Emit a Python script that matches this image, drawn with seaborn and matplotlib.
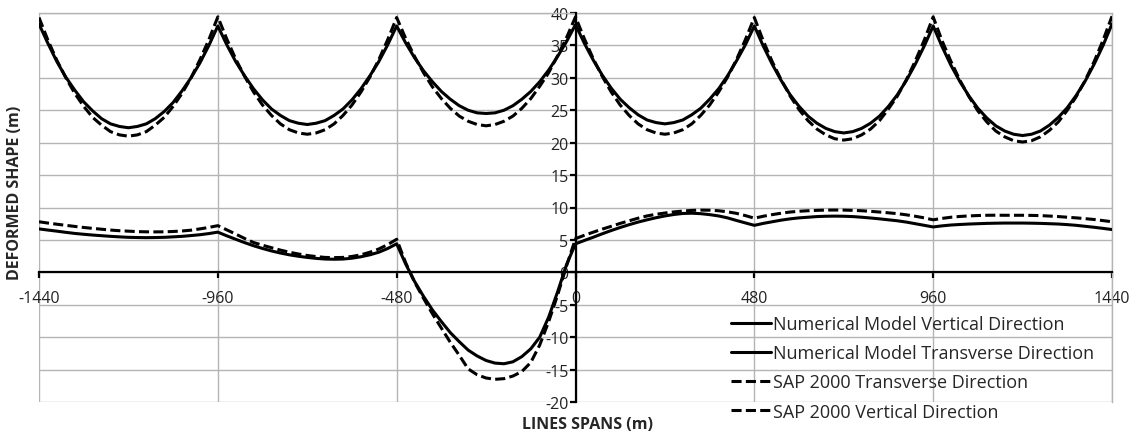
import numpy as np
import pandas as pd
import matplotlib
matplotlib.use("Agg")
import matplotlib.pyplot as plt
from matplotlib.ticker import MultipleLocator
import seaborn as sns

# stations along the line (m), every 24 m
x_m = np.arange(-1440, 1441, 24)

# vertical deformed shape (m), one row per span (towers shared)
num_vertical = [
    38.3, 35.3, 32.5, 30.1, 28.1, 26.3, 24.9, 23.7, 22.9, 22.5, 22.3, 22.5, 22.9, 23.7, 24.8, 26.2, 28.0, 30.0, 32.3, 35.0, 38.0,
    35.1, 32.5, 30.3, 28.3, 26.6, 25.2, 24.2, 23.4, 23.0, 22.8, 23.0, 23.4, 24.2, 25.2, 26.6, 28.3, 30.3, 32.5, 35.1, 38.0,
    35.4, 33.1, 31.1, 29.4, 27.9, 26.7, 25.7, 25.0, 24.6, 24.5, 24.6, 25.0, 25.7, 26.7, 27.9, 29.4, 31.2, 33.3, 35.6, 38.2,
    35.3, 32.7, 30.4, 28.4, 26.7, 25.4, 24.3, 23.5, 23.1, 22.9, 23.1, 23.5, 24.3, 25.3, 26.7, 28.3, 30.3, 32.6, 35.1, 38.0,
    34.9, 32.1, 29.6, 27.4, 25.6, 24.1, 23.0, 22.2, 21.7, 21.5, 21.7, 22.2, 23.0, 24.1, 25.6, 27.4, 29.6, 32.1, 34.9, 38.0,
    34.8, 31.9, 29.4, 27.2, 25.3, 23.8, 22.6, 21.8, 21.3, 21.1, 21.3, 21.8, 22.7, 23.9, 25.4, 27.3, 29.5, 32.1, 35.0, 38.3,
]
sap_vertical = [
    39.3, 35.8, 32.7, 30.0, 27.6, 25.6, 23.9, 22.7, 21.7, 21.2, 21.0, 21.2, 21.7, 22.7, 23.9, 25.6, 27.6, 30.0, 32.8, 35.9, 39.4,
    36.0, 32.9, 30.2, 27.8, 25.8, 24.2, 22.9, 22.0, 21.5, 21.3, 21.5, 22.0, 22.9, 24.2, 25.8, 27.8, 30.1, 32.8, 35.9, 39.3,
    36.1, 33.3, 30.8, 28.6, 26.8, 25.3, 24.1, 23.3, 22.8, 22.6, 22.8, 23.3, 24.1, 25.3, 26.8, 28.7, 30.8, 33.4, 36.2, 39.4,
    36.0, 32.9, 30.2, 27.8, 25.8, 24.2, 22.9, 22.0, 21.5, 21.3, 21.5, 22.0, 22.9, 24.2, 25.8, 27.8, 30.1, 32.8, 35.9, 39.3,
    35.7, 32.5, 29.7, 27.2, 25.1, 23.4, 22.1, 21.2, 20.6, 20.4, 20.6, 21.2, 22.1, 23.4, 25.2, 27.2, 29.7, 32.6, 35.8, 39.4,
    35.7, 32.5, 29.6, 27.1, 24.9, 23.2, 21.8, 20.9, 20.3, 20.1, 20.3, 20.9, 21.9, 23.2, 25.0, 27.1, 29.6, 32.5, 35.8, 39.5,
]

# transverse deformed shape (m)
num_transverse = [
    6.7, 6.52, 6.35, 6.17, 6.0, 5.87, 5.75, 5.65, 5.55, 5.47, 5.4, 5.37, 5.35, 5.37, 5.4, 5.47, 5.55, 5.67, 5.8, 5.98, 6.2,
    5.63, 5.1, 4.58, 4.1, 3.68, 3.3, 2.98, 2.7, 2.48, 2.3, 2.15, 2.05, 2.02, 2.05, 2.18, 2.4, 2.7, 3.1, 3.68, 4.4,
    1.3, -1.4, -3.7, -5.8, -7.6, -9.3, -10.7, -12.0, -12.9, -13.6, -14.0, -14.1, -13.8, -13.0, -11.8, -10.0, -6.9, -3.0, 1.2, 4.4,
    4.92, 5.42, 5.95, 6.45, 6.92, 7.35, 7.75, 8.1, 8.42, 8.7, 8.92, 9.08, 9.12, 9.05, 8.9, 8.7, 8.4, 8.0, 7.62, 7.25,
    7.55, 7.8, 8.05, 8.25, 8.4, 8.5, 8.6, 8.65, 8.67, 8.65, 8.6, 8.5, 8.38, 8.25, 8.1, 7.95, 7.75, 7.5, 7.25, 7.0,
    7.17, 7.3, 7.38, 7.45, 7.5, 7.55, 7.58, 7.6, 7.6, 7.6, 7.58, 7.55, 7.5, 7.45, 7.36, 7.25, 7.1, 6.95, 6.78, 6.6,
]
sap_transverse = [
    7.8, 7.6, 7.42, 7.25, 7.08, 6.92, 6.78, 6.65, 6.52, 6.42, 6.35, 6.28, 6.25, 6.24, 6.25, 6.3, 6.38, 6.5, 6.7, 6.93, 7.2,
    6.55, 5.9, 5.22, 4.6, 4.18, 3.8, 3.43, 3.1, 2.83, 2.6, 2.43, 2.3, 2.27, 2.3, 2.45, 2.7, 3.1, 3.6, 4.28, 5.1,
    1.5, -1.5, -4.0, -6.4, -8.6, -10.8, -12.8, -14.9, -15.8, -16.3, -16.5, -16.4, -16.0, -15.3, -13.9, -11.2, -7.6, -3.5, 1.0, 5.2,
    5.72, 6.2, 6.67, 7.1, 7.55, 7.95, 8.35, 8.7, 8.95, 9.15, 9.32, 9.45, 9.55, 9.6, 9.58, 9.5, 9.33, 9.1, 8.75, 8.35,
    8.65, 8.9, 9.12, 9.3, 9.42, 9.5, 9.56, 9.6, 9.61, 9.6, 9.56, 9.5, 9.41, 9.3, 9.18, 9.05, 8.87, 8.65, 8.4, 8.1,
    8.32, 8.5, 8.62, 8.7, 8.76, 8.8, 8.81, 8.8, 8.8, 8.8, 8.78, 8.75, 8.68, 8.6, 8.5, 8.4, 8.28, 8.15, 7.98, 7.8,
]

series_names = [
    "Numerical Model Vertical Direction",
    "Numerical Model Transverse Direction",
    "SAP 2000 Transverse Direction",
    "SAP 2000 Vertical Direction",
]
series_values = [num_vertical, num_transverse, sap_transverse, sap_vertical]

df = pd.concat(
    [pd.DataFrame({"x": x_m, "y": vals, "serie": name})
     for name, vals in zip(series_names, series_values)],
    ignore_index=True,
)

sns.set_theme(style="white")
plt.rcParams["font.family"] = ["Open Sans", "DejaVu Sans"]
plt.rcParams["axes.unicode_minus"] = False

fig = plt.figure(figsize=(11.39, 4.35), dpi=100)
ax = fig.add_axes([39 / 1139, 1 - 403 / 435, 1073 / 1139, 389 / 435])

dash = (3.3, 1.4)
sns.lineplot(
    data=df, x="x", y="y", hue="serie", style="serie",
    hue_order=series_names, style_order=series_names,
    palette=["black"] * 4,
    dashes={series_names[0]: "", series_names[1]: "",
            series_names[2]: dash, series_names[3]: dash},
    estimator=None, sort=False, linewidth=2.2, ax=ax, zorder=3,
)

ax.set_xlim(-1440, 1440)
ax.set_ylim(-20, 40)
ax.xaxis.set_major_locator(MultipleLocator(480))
ax.xaxis.set_minor_locator(MultipleLocator(96))
ax.yaxis.set_major_locator(MultipleLocator(5))
ax.yaxis.set_minor_locator(MultipleLocator(2.5))

ax.grid(True, which="major", color="#b4b4b4", linewidth=1.0, zorder=0)
ax.set_axisbelow(True)

# axes crossing at zero
ax.spines["left"].set_position(("data", 0))
ax.spines["bottom"].set_position(("data", 0))
for s in ["left", "bottom"]:
    ax.spines[s].set_color("black")
    ax.spines[s].set_linewidth(1.6)
    ax.spines[s].set_zorder(4)
for s in ["top", "right"]:
    ax.spines[s].set_color("#b4b4b4")
    ax.spines[s].set_linewidth(1.0)

ax.tick_params(axis="x", which="major", direction="out", length=4, width=1.6,
               color="black", pad=9, labelsize=11.5, labelcolor="#222222")
ax.tick_params(axis="x", which="minor", direction="out", length=4, width=1.6,
               color="black")
ax.tick_params(axis="y", which="major", direction="out", length=4, width=1.6,
               color="black", pad=1, labelsize=11.5, labelcolor="#222222")
ax.tick_params(axis="y", which="minor", direction="out", length=3, width=1.6,
               color="black")
ax.yaxis.set_tick_params(left=True)
ax.xaxis.set_tick_params(bottom=True)

ax.set_xlabel("LINES SPANS (m)", fontsize=11.5, fontweight="bold")
ax.set_ylabel("DEFORMED SHAPE (m)", fontsize=11.5, fontweight="bold")
ax.xaxis.set_label_coords((587 - 39) / 1073, -(425 - 403) / 389)
ax.yaxis.set_label_coords((15 - 39) / 1073, (403 - 193) / 389)
ax.xaxis.label.set_va("center")
ax.yaxis.label.set_va("center")

leg = ax.legend(
    loc="upper left", bbox_to_anchor=(731 / 1139, 1 - 316 / 435),
    bbox_transform=fig.transFigure, frameon=False, fontsize=13,
    handlelength=2.2, handletextpad=0.15, borderpad=0, borderaxespad=0,
    labelspacing=0.62, title=None,
)

fig.savefig("out.png", dpi=100)
